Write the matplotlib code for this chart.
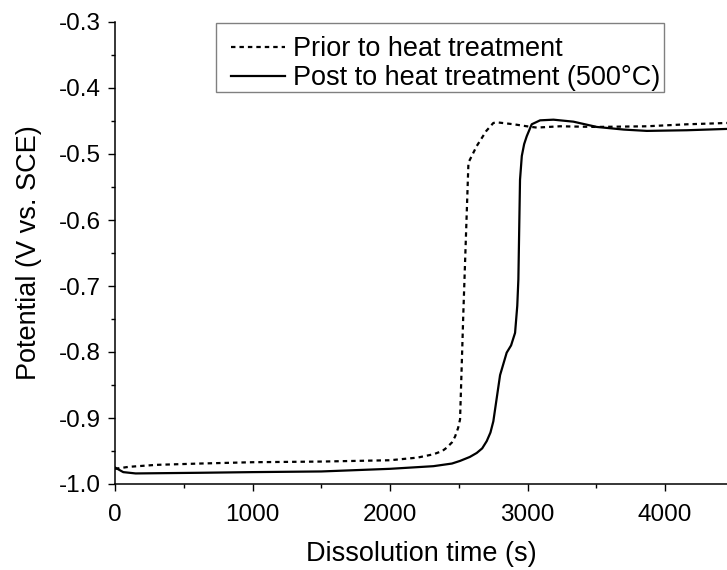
import numpy as np
import matplotlib
matplotlib.use("Agg")
import matplotlib.pyplot as plt
from matplotlib.ticker import MultipleLocator
from matplotlib.patches import Rectangle
from matplotlib.lines import Line2D

plt.rcParams['font.family'] = ['Liberation Sans', 'DejaVu Sans']
plt.rcParams['axes.unicode_minus'] = False

# Open circuit potential vs. dissolution time
prior_t = [0, 100, 300, 618, 1000, 1500, 2000, 2200, 2315, 2380, 2412, 2450,
           2473, 2495, 2509, 2533, 2570, 2594, 2630, 2700, 2751, 2776, 2900,
           2994, 3067, 3236, 3500, 3867, 4158, 4450]
prior_v = [-0.977, -0.974, -0.971, -0.969, -0.967, -0.966, -0.964, -0.960,
           -0.955, -0.950, -0.945, -0.937, -0.928, -0.915, -0.902, -0.740,
           -0.513, -0.503, -0.488, -0.465, -0.453, -0.452, -0.455, -0.458,
           -0.460, -0.458, -0.459, -0.458, -0.455, -0.453]

post_t = [0, 60, 150, 618, 1000, 1500, 2000, 2315, 2450, 2509, 2580, 2630,
          2670, 2703, 2730, 2751, 2800, 2848, 2880, 2909, 2925, 2933, 2945,
          2958, 2975, 2994, 3030, 3091, 3188, 3333, 3503, 3700, 3867, 4158,
          4450]
post_v = [-0.975, -0.982, -0.984, -0.983, -0.982, -0.981, -0.977, -0.973,
          -0.969, -0.965, -0.959, -0.953, -0.946, -0.935, -0.922, -0.905,
          -0.835, -0.801, -0.790, -0.771, -0.730, -0.690, -0.539, -0.503,
          -0.485, -0.473, -0.455, -0.449, -0.448, -0.451, -0.459, -0.463,
          -0.465, -0.464, -0.462]

labels = ["Prior to heat treatment", "Post to heat treatment (500°C)"]

W, H = 727, 570
fig = plt.figure(figsize=(W / 100, H / 100), dpi=100)
ax = fig.add_axes([115 / W, 1 - 484 / H, 1 - 115 / W, (484 - 22) / H])

dotted = (0, (2.0, 1.8))
ax.plot(prior_t, prior_v, color='black', lw=1.6, linestyle=dotted)
ax.plot(post_t, post_v, color='black', lw=1.6)

ax.set_xlim(0, 4450)
ax.set_ylim(-1.0, -0.3)
ax.xaxis.set_major_locator(MultipleLocator(1000))
ax.xaxis.set_minor_locator(MultipleLocator(500))
ax.yaxis.set_major_locator(MultipleLocator(0.1))
ax.yaxis.set_minor_locator(MultipleLocator(0.05))
ax.yaxis.set_major_formatter(plt.FuncFormatter(lambda v, p: "%.1f" % v))

ax.spines['top'].set_visible(False)
ax.spines['right'].set_visible(False)
for s in ['left', 'bottom']:
    ax.spines[s].set_linewidth(1.1)
ax.tick_params(which='major', direction='out', length=5, width=1.0,
               labelsize=17.5)
ax.tick_params(axis='x', which='major', pad=9.3)
ax.tick_params(axis='y', which='major', pad=5)
ax.tick_params(which='minor', direction='out', length=3, width=1.0)

ax.set_xlabel("Dissolution time (s)", fontsize=19.5, labelpad=11)
ax.set_ylabel("Potential (V vs. SCE)", fontsize=19.5)
ax.yaxis.set_label_coords((41.7 - 115) / (W - 115), 0.5)

# legend: handles/text placed freely, frame drawn as a plain box
handles = [Line2D([], [], color='black', lw=1.6, linestyle=dotted),
           Line2D([], [], color='black', lw=1.6)]
leg = fig.legend(handles, labels, loc='center left',
                 bbox_to_anchor=(231 / W, 1 - 63.5 / H), fontsize=19.5,
                 frameon=False, handlelength=2.0, handletextpad=0.3,
                 borderpad=0, labelspacing=0.11, borderaxespad=0)
fig.patches.append(Rectangle((216 / W, 1 - 92.3 / H), (664 - 216) / W,
                             (92.3 - 23.3) / H, transform=fig.transFigure,
                             fill=False, edgecolor='#808080', lw=1.0))

fig.savefig("out.png", dpi=100)
